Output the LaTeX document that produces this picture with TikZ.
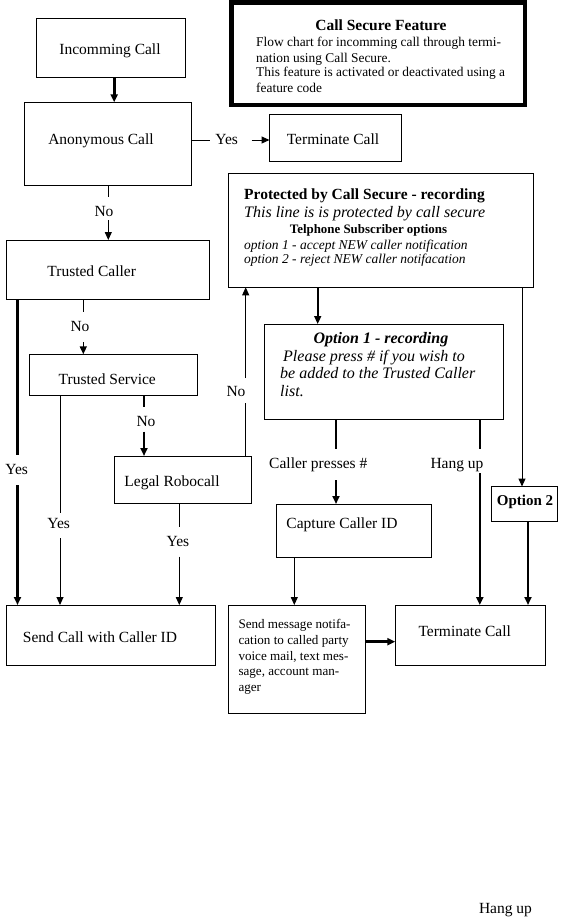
\documentclass[tikz,border=0pt]{standalone}
\usepackage{fontspec}
\setmainfont{Liberation Serif}
\usetikzlibrary{arrows.meta}
\begin{document}
\begin{tikzpicture}[x=1pt,y=-1pt,
  box/.style={draw, line width=0.9pt, inner sep=0pt, outer sep=0pt, anchor=north west},
  lbl/.style={inner sep=0pt, anchor=base, font=\fontsize{15.5}{18}\selectfont},
  lblw/.style={lbl, anchor=base west},
  small/.style={inner sep=0pt, anchor=base west, font=\fontsize{13.4}{16}\selectfont},
  thinline/.style={line width=1pt},
  midline/.style={line width=1.6pt},
  thickline/.style={line width=2.6pt},
  arr/.style={-{Triangle[length=8pt,width=7pt]}}]
\useasboundingbox (0,0) rectangle (565,919);
\fill[white] (0,0) rectangle (565,919);

% boxes
\node[box, minimum width=148.6pt, minimum height=59pt] (inc) at (36.4,18.3) {};
\node[box, minimum width=167.2pt, minimum height=83pt] (anon) at (24.5,102.3) {};
\node[box, minimum width=132pt, minimum height=47.2pt] (term1) at (269.5,114.3) {};
\node[box, line width=4.6pt, minimum width=293.7pt, minimum height=102.7pt] (secure) at (231.3,2.3) {};
\node[box, minimum width=305pt, minimum height=114pt] (prot) at (228.3,173.3) {};
\node[box, minimum width=202.6pt, minimum height=59.3pt] (tcaller) at (6.7,240) {};
\node[box, minimum width=168.2pt, minimum height=41.2pt] (tserv) at (29.3,354.3) {};
\node[box, minimum width=137.3pt, minimum height=47.3pt] (robo) at (114.2,456) {};
\node[box, minimum width=239pt, minimum height=95.3pt] (opt1) at (264.3,324) {};
\node[box, minimum width=155.2pt, minimum height=53pt] (capture) at (276.3,504) {};
\node[box, minimum width=209.1pt, minimum height=60.5pt] (sendcid) at (6.5,605) {};
\node[box, minimum width=137.2pt, minimum height=108.3pt] (sendmsg) at (228.3,605) {};
\node[box, minimum width=150.2pt, minimum height=60pt] (term2) at (395.3,605) {};
\node[box, minimum width=65.5pt, minimum height=34.5pt] (opt2) at (491.8,486.5) {};

% box texts
\node[lbl] (incT) at (110,54.6) {Incomming Call};
\node[lbl] (anonT) at (101,144.6) {Anonymous Call};
\node[lbl] (term1T) at (333,144.6) {Terminate Call};
\node[lbl, font=\bfseries\fontsize{15.5}{18}\selectfont] (secT0) at (381,30.6) {Call Secure Feature};
\node[small] (secT1) at (256,46.3) {Flow chart for incomming call through termi-};
\node[small] (secT2) at (256,62.2) {nation using Call Secure.};
\node[small] (secT3) at (256,76.7) {This feature is activated or deactivated using a};
\node[small] (secT4) at (256,92.7) {feature code};
\node[lblw, font=\bfseries\fontsize{15.5}{18}\selectfont] (protT1) at (244,199.6) {Protected by Call Secure - recording};
\node[lblw, font=\itshape\fontsize{16}{18}\selectfont] (protT2) at (244,217.8) {This line is is protected by call secure};
\node[lbl, font=\bfseries\fontsize{12.9}{15}\selectfont] (protT3) at (368.5,233.9) {Telphone Subscriber options};
\node[lblw, font=\itshape\fontsize{13.5}{16}\selectfont] (protT4) at (244,249) {option 1 - accept NEW caller notification};
\node[lblw, font=\itshape\fontsize{13.5}{16}\selectfont] (protT5) at (244,263) {option 2 - reject NEW caller notifacation};
\node[lbl] (tcallerT) at (91.7,276.3) {Trusted Caller};
\node[lbl] (tservT) at (107.3,384.6) {Trusted Service};
\node[lbl] (roboT) at (172,486.3) {Legal Robocall};
\node[lbl, font=\bfseries\itshape\fontsize{16}{18}\selectfont] (opt1T1) at (381,343.8) {Option 1 - recording};
\node[lblw, font=\itshape\fontsize{16}{18}\selectfont] (opt1T2) at (283,361.8) {Please press \# if you wish to};
\node[lblw, font=\itshape\fontsize{16}{18}\selectfont] (opt1T3) at (280,378.8) {be added to the Trusted Caller};
\node[lblw, font=\itshape\fontsize{16}{18}\selectfont] (opt1T4) at (280,396.8) {list.};
\node[lbl] (captureT) at (342,528) {Capture Caller ID};
\node[lbl, font=\bfseries\fontsize{15}{18}\selectfont] (opt2T) at (525,505.5) {Option 2};
\node[lbl] (sendcidT) at (100,642.3) {Send Call with Caller ID};
\node[small, font=\fontsize{13.1}{16}\selectfont] (msgT1) at (238.3,628) {Send message notifa-};
\node[small, font=\fontsize{13.1}{16}\selectfont] (msgT2) at (238.3,644) {cation to called party};
\node[small, font=\fontsize{13.1}{16}\selectfont] (msgT3) at (238.3,660) {voice mail, text mes-};
\node[small, font=\fontsize{13.1}{16}\selectfont] (msgT4) at (238.3,675.7) {sage, account man-};
\node[small, font=\fontsize{13.1}{16}\selectfont] (msgT5) at (238.3,691.7) {ager};
\node[lbl] (term2T) at (464.7,636.3) {Terminate Call};

% connector labels
\node[lbl] (yes1) at (226.7,144.6) {Yes};
\node[lbl] (no1) at (104,216.6) {No};
\node[lbl] (no2) at (80,331.3) {No};
\node[lbl] (no3) at (146,426.6) {No};
\node[lbl] (no4) at (236,396.6) {No};
\node[lbl] (yes2) at (16.7,474.6) {Yes};
\node[lbl] (yes3) at (58.7,528.6) {Yes};
\node[lbl] (yes4) at (178,546.3) {Yes};
\node[lbl] (presses) at (318.3,468.1) {Caller presses \#};
\node[lbl] (hang1) at (457,468.6) {Hang up};
\node[lbl] (hang2) at (505.5,913.6) {Hang up};

% column / row coordinates and gap ends
\coordinate (x114) at (114.2,0);
\coordinate (x108) at (108.3,0);
\coordinate (x17) at (17.5,0);
\coordinate (x83) at (83.3,0);
\coordinate (x60) at (60,0);
\coordinate (x144) at (144,0);
\coordinate (x245) at (245.7,0);
\coordinate (x179) at (179.3,0);
\coordinate (x317) at (317.7,0);
\coordinate (x522) at (522,0);
\coordinate (x336) at (336,0);
\coordinate (x480) at (479.8,0);
\coordinate (x294) at (294.3,0);
\coordinate (x528) at (528,0);
\coordinate (y642) at (0,641.7);

\coordinate (g1a) at (210,140);     \coordinate (g1b) at (251.7,140);
\coordinate (g2a) at (108.3,196.7); \coordinate (g2b) at (108.3,220);
\coordinate (g3a) at (17.5,455);    \coordinate (g3b) at (17.5,485);
\coordinate (g4a) at (83.3,311.7);  \coordinate (g4b) at (83.3,342);
\coordinate (g5a) at (60,513);      \coordinate (g5b) at (60,538);
\coordinate (g6a) at (144,406.7);   \coordinate (g6b) at (144,431.7);
\coordinate (g7a) at (245.7,403);   \coordinate (g7b) at (245.7,378);
\coordinate (g8a) at (179.3,527);   \coordinate (g8b) at (179.3,556.7);
\coordinate (g9a) at (336,449.3);   \coordinate (g9b) at (336,480);
\coordinate (g10a) at (479.8,449);  \coordinate (g10b) at (479.8,473);

% connectors
\draw[thickline,arr] (inc.south -| x114) -- (anon.north -| x114);
\draw[thinline] (anon.east |- g1a) -- (g1a);
\draw[thinline,arr] (g1b) -- (term1.west |- g1b);
\draw[thinline] (anon.south -| x108) -- (g2a);
\draw[thinline,arr] (g2b) -- (tcaller.north -| x108);
\draw[thickline] (tcaller.south -| x17) -- (g3a);
\draw[thickline,arr] (g3b) -- (sendcid.north -| x17);
\draw[thinline] (tcaller.south -| x83) -- (g4a);
\draw[midline,arr] (g4b) -- (tserv.north -| x83);
\draw[thinline] (tserv.south -| x60) -- (g5a);
\draw[thinline,arr] (g5b) -- (sendcid.north -| x60);
\draw[thickline] (tserv.south -| x144) -- (g6a);
\draw[thickline,arr] (g6b) -- (robo.north -| x144);
\draw[thinline] (robo.north -| x245) -- (g7a);
\draw[thinline,arr] (g7b) -- (prot.south -| x245);
\draw[thinline] (robo.south -| x179) -- (g8a);
\draw[thinline,arr] (g8b) -- (sendcid.north -| x179);
\draw[midline,arr] (prot.south -| x317) -- (opt1.north -| x317);
\draw[thinline,arr] (prot.south -| x522) -- (opt2.north -| x522);
\draw[thickline] (opt1.south -| x336) -- (g9a);
\draw[thickline,arr] (g9b) -- (capture.north -| x336);
\draw[thickline] (opt1.south -| x480) -- (g10a);
\draw[thickline,arr] (g10b) -- (term2.north -| x480);
\draw[thinline,arr] (capture.south -| x294) -- (sendmsg.north -| x294);
\draw[thickline,arr] (sendmsg.east |- y642) -- (term2.west |- y642);
\draw[thickline,arr] (opt2.south -| x528) -- (term2.north -| x528);
\end{tikzpicture}
\end{document}
